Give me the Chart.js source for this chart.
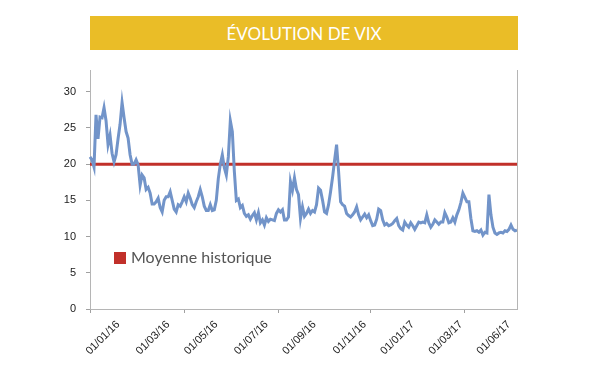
<!DOCTYPE html>
<html>
<head>
<meta charset="utf-8">
<script src="https://cdn.jsdelivr.net/npm/chart.js@4.4.1/dist/chart.umd.min.js"></script>
<style>
  html, body { margin: 0; padding: 0; background: #fff; }
  #wrap { position: relative; width: 600px; height: 375px; }
  #titre {
    position: absolute; left: 90px; top: 16px; width: 428px; height: 34px;
    background: #EABD27; color: #fff; text-align: center; line-height: 35px;
    font-family: 'Lato', sans-serif; font-size: 17px; font-weight: 400;
  }
  #legende {
    position: absolute; left: 114px; top: 247px; color: #555;
    font-family: 'Lato', sans-serif; font-size: 16px; white-space: nowrap;
  }
  #legende .carre {
    display: inline-block; width: 12px; height: 12px; background: #C1302A;
    margin-right: 5px; vertical-align: -1px;
  }
  canvas { position: absolute; left: 0; top: 0; }
</style>
</head>
<body>
<div id="wrap">
  <canvas id="vix-chart" width="600" height="375"></canvas>
  <div id="titre">ÉVOLUTION DE VIX</div>
  <div id="legende"><span class="carre"></span>Moyenne historique</div>
</div>
<script>
// VIX au fil des séances, janv. 2016 -> juin 2017
const vix = [
  21, 20.6, 19.6, 26.8, 23.5, 26.5, 26.4, 27.8, 26, 22.7, 24, 21.5, 20.3, 21.3, 23.5, 25.5, 28.5, 26.4, 24.5,
  23.6, 21.3, 20, 20, 20.6, 19.9, 17.1, 18.5, 18.1, 16.5, 16.8, 16, 14.5, 14.5, 14.8, 15.3, 14, 13.4,
  15, 15.5, 15.5, 16.2, 15, 13.8, 13.4, 14.4, 14.2, 14.8, 15.5, 14.8, 16, 15.3, 14.4, 14, 14.8, 15.5,
  16.5, 15.5, 14.2, 13.6, 13.6, 14.4, 13.6, 13.7, 15, 18, 20, 21.3, 19.5, 18.5, 21, 26, 24.5, 19, 15,
  15.2, 14, 14.3, 13.2, 12.8, 13, 12.4, 12.9, 13.3, 12.3, 13.3, 11.9, 12.3, 11.6, 12.6, 12.1, 12.4,
  12.3, 12.2, 13.2, 13.7, 13.4, 13.7, 12.3, 12.3, 12.7, 17.6, 16.4, 18.1, 16.5, 15.8, 12.5, 14.1, 12.8,
  13.2, 13.8, 13.2, 13.6, 13.4, 14.4, 16.7, 16.4, 15, 13.4, 13.2, 14.4, 16.2, 18.2, 20.5, 22.7, 19,
  14.8, 14.4, 14.2, 13.2, 12.9, 12.7, 13, 13.4, 14.1, 13, 12.3, 12.7, 13.1, 12.6, 13, 12.2, 11.5, 11.6,
  12.4, 13.8,
  13.6, 12.3, 11.6, 11.8, 11.5, 11.6, 11.8, 12.2, 12.5, 11.5, 11.1, 10.9, 12, 11.6, 11.3, 11.9, 11.5,
  11, 11.5, 12, 11.9, 12, 11.9, 13, 11.9, 11.3, 11.7, 12.3, 12, 11.7, 12, 12, 13.3, 12.7, 11.9, 12,
  12.6, 12, 13, 13.7, 14.7, 16, 15.4, 14.8, 14.8, 12.5, 10.8, 10.7, 10.8, 10.6, 10.9, 10.2, 10.6, 10.5,
  15.8, 13, 11.3, 10.5, 10.3, 10.5, 10.6, 10.5, 10.8, 10.7, 11, 11.6, 11, 10.8, 10.9
];
const moyenneHistorique = 20;

const dateLabels = ['01/01/16', '01/03/16', '01/05/16', '01/07/16', '01/09/16',
                    '01/11/16', '01/01/17', '01/03/17', '01/06/17'];
// séance à laquelle chaque date est affichée, et séances portant une graduation
const labelIndex = [14, 39, 63, 88, 112, 137, 161, 185, 209];
const tickMarkIndex = [0, 47, 94, 140, 187];

const seances = vix.map((_, i) => i);

const cadre = {
  id: 'cadre',
  afterDraw(chart) {
    const { ctx, chartArea: a } = chart;
    ctx.save();
    ctx.strokeStyle = '#b5b5b5';
    ctx.lineWidth = 1;
    ctx.beginPath();
    ctx.moveTo(a.right + 0.5, a.top);
    ctx.lineTo(a.right + 0.5, a.bottom);
    ctx.stroke();
    ctx.restore();
  }
};

new Chart(document.getElementById('vix-chart'), {
  type: 'line',
  data: {
    labels: seances,
    datasets: [
      {
        label: 'VIX',
        data: vix,
        borderColor: '#7294C9',
        borderWidth: 3,
        pointRadius: 0,
        tension: 0
      },
      {
        label: 'Moyenne historique',
        data: seances.map(() => moyenneHistorique),
        borderColor: '#C1302A',
        borderWidth: 3,
        pointRadius: 0,
        tension: 0
      }
    ]
  },
  options: {
    responsive: false,
    animation: false,
    layout: { padding: { top: 70, right: 83, left: 0, bottom: 0 } },
    plugins: { legend: { display: false }, tooltip: { enabled: false } },
    scales: {
      x: {
        type: 'category',
        afterFit: (scale) => { scale.height = 66; },
        border: { color: '#b5b5b5', width: 1 },
        grid: {
          drawOnChartArea: false,
          tickLength: 4,
          color: (ctx) => tickMarkIndex.includes(ctx.index) ? '#a0a0a0' : 'rgba(0,0,0,0)',
          tickColor: (ctx) => tickMarkIndex.includes(ctx.index) ? '#a0a0a0' : 'rgba(0,0,0,0)'
        },
        ticks: {
          autoSkip: false,
          minRotation: 45,
          maxRotation: 45,
          padding: 5,
          color: '#222',
          font: { family: 'Liberation Sans', size: 11 },
          callback: (value, index) => {
            const k = labelIndex.indexOf(index);
            return k >= 0 ? dateLabels[k] : '';
          }
        }
      },
      y: {
        min: 0,
        max: 33,
        afterFit: (scale) => { scale.width = 90; },
        border: { color: '#b5b5b5', width: 1 },
        grid: { drawOnChartArea: false, tickLength: 4, color: '#a0a0a0' },
        ticks: {
          stepSize: 5,
          includeBounds: false,
          padding: 10,
          color: '#222',
          font: { family: 'Liberation Sans', size: 11 }
        }
      }
    }
  },
  plugins: [cadre]
});
</script>
</body>
</html>
